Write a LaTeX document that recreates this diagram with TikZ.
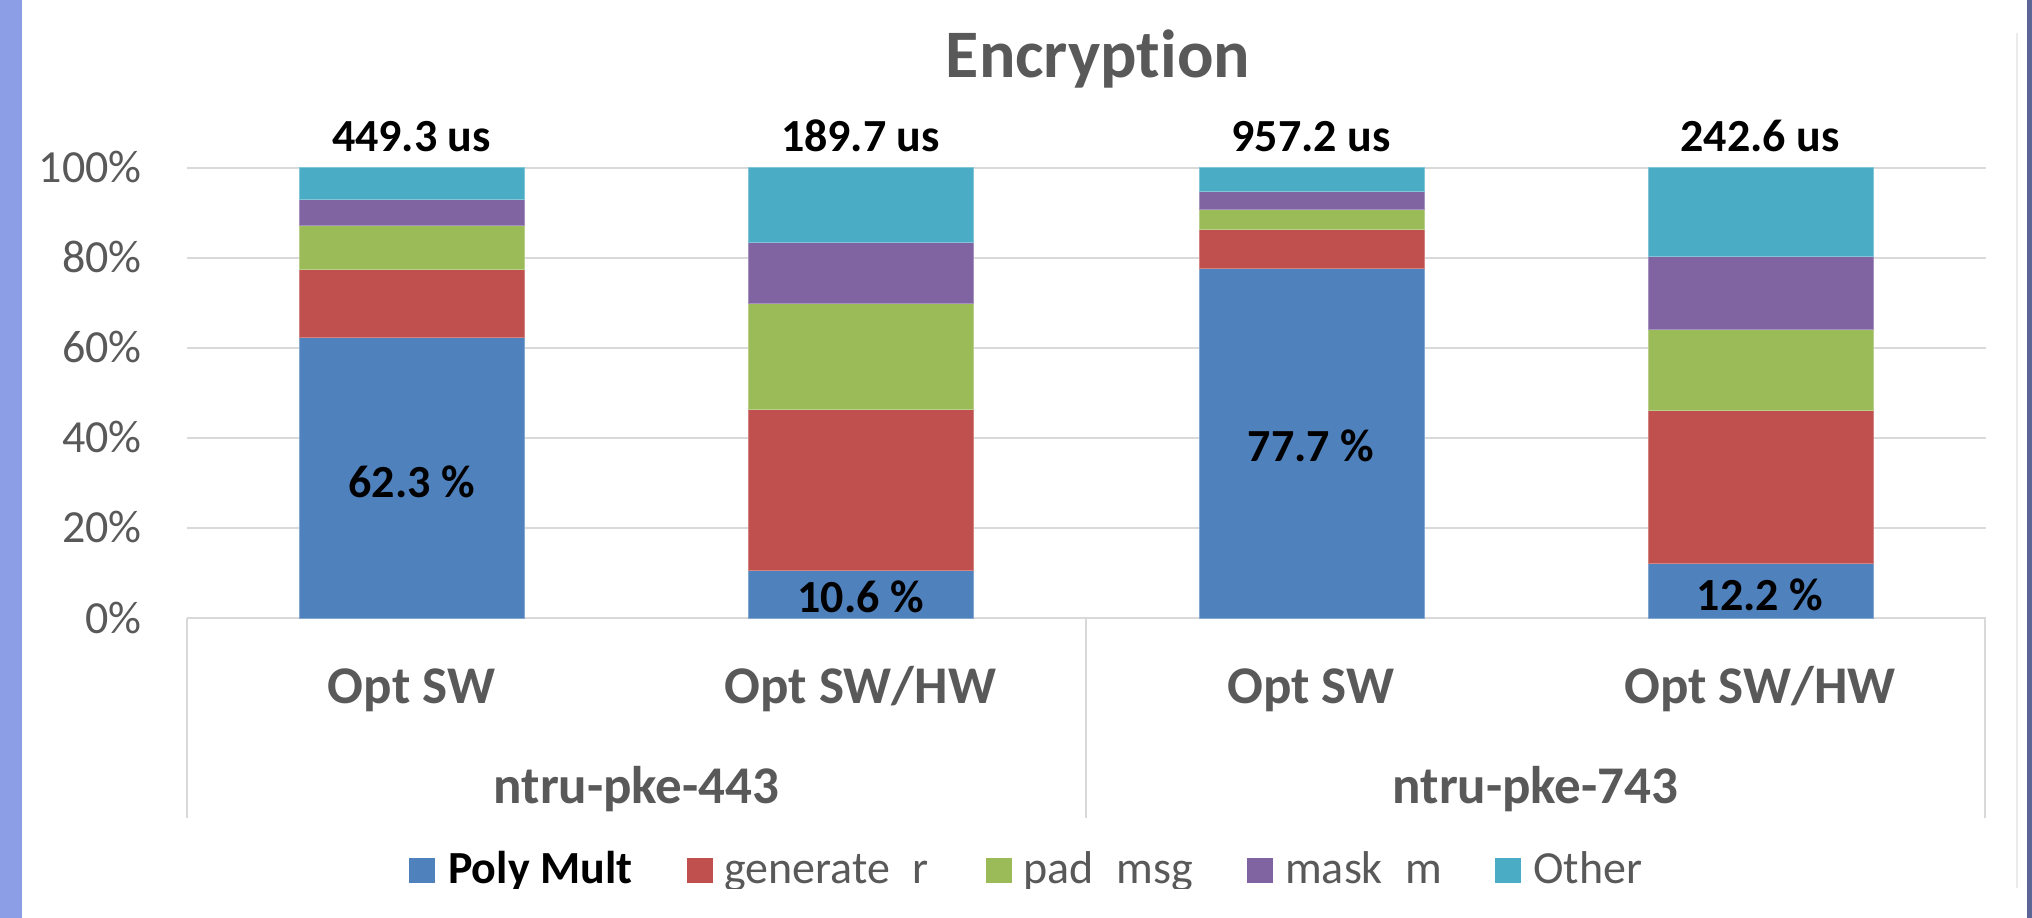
\documentclass[tikz,border=0pt]{standalone}
\usepackage{fontspec}
\setmainfont{Carlito}[Ligatures=NoCommon]
\definecolor{cpoly}{HTML}{4F81BD}
\definecolor{cgen}{HTML}{C0504D}
\definecolor{cpad}{HTML}{9BBB59}
\definecolor{cmask}{HTML}{8064A2}
\definecolor{cother}{HTML}{4BACC6}
\definecolor{txtgray}{HTML}{595959}
\definecolor{gridgray}{HTML}{D9D9D9}
\definecolor{edgeblue}{HTML}{8C9FE6}
\definecolor{edgedark}{HTML}{5B6596}
\definecolor{framegray}{HTML}{EBEBEB}
\newcommand{\gap}{\phantom{\_}}
\begin{document}
\begin{tikzpicture}[x=1pt,y=-1pt,
  txt/.style={inner sep=0pt, anchor=base},
  title/.style={txt, text=txtgray, font=\fontsize{68}{72}\selectfont\bfseries},
  total/.style={txt, text=black, font=\fontsize{46}{50}\selectfont\bfseries},
  share/.style={txt, text=black, font=\fontsize{46}{50}\selectfont\bfseries},
  ytick/.style={txt, anchor=base east, text=txtgray, font=\fontsize{46}{50}\selectfont},
  cat/.style={txt, text=txtgray, font=\fontsize{53}{57}\selectfont\bfseries},
  legtxt/.style={txt, anchor=base west, text=txtgray, font=\fontsize{46}{50}\selectfont},
  grid/.style={draw=gridgray, line width=2pt},
  seg/.style={line width=0.8pt}]
\useasboundingbox (0,0) rectangle (2032,918);
\fill[white] (0,0) rectangle (2032,918);

% side strips and chart frame
\fill[edgeblue] (0,0) rectangle (22,918);
\fill[edgedark] (2027,0) rectangle (2032,918);
\draw[framegray, line width=1.5pt] (2017,33) -- (2017,888);

% horizontal gridlines and y-axis labels (0% at y=618, 100% at y=167.5)
\foreach \p/\t in {0/0\%,20/20\%,40/40\%,60/60\%,80/80\%,100/100\%}{
  \draw[grid] (187,{618-4.505*\p}) -- (1986,{618-4.505*\p});
  \node[ytick] (y\p) at (142,{618-4.505*\p+15}) {\t};
}

% category axis frame
\draw[grid] (187,618) -- (187,818);
\draw[grid] (1086,618) -- (1086,818);
\draw[grid] (1985,618) -- (1985,818);

% stacked bars: left edge / Poly Mult / generate r / pad msg / mask m cumulative shares
\foreach \xl/\a/\b/\c/\d in {299/62.3/77.3/87.2/92.9, 748/10.6/46.3/69.8/83.3,
                              1199/77.7/86.2/90.8/94.8, 1648/12.2/46.1/64.0/80.2}{
  \filldraw[seg, fill=cpoly,  draw=cpoly!70!white]  (\xl,618) rectangle (\xl+225,{618-4.505*\a});
  \filldraw[seg, fill=cgen,   draw=cgen!70!white]   (\xl,{618-4.505*\a}) rectangle (\xl+225,{618-4.505*\b});
  \filldraw[seg, fill=cpad,   draw=cpad!70!white]   (\xl,{618-4.505*\b}) rectangle (\xl+225,{618-4.505*\c});
  \filldraw[seg, fill=cmask,  draw=cmask!70!white]  (\xl,{618-4.505*\c}) rectangle (\xl+225,{618-4.505*\d});
  \filldraw[seg, fill=cother, draw=cother!70!white] (\xl,{618-4.505*\d}) rectangle (\xl+225,167.5);
}

% title
\node[title] (ttl) at (1098,77) {Encryption};

% total run times above the bars
\node[total] (t1) at (411.5,151) {449.3 us};
\node[total] (t2) at (860.5,151) {189.7 us};
\node[total] (t3) at (1311,151) {957.2 us};
\node[total] (t4) at (1760,151) {242.6 us};

% Poly Mult shares
\node[share] (s1) at (411.5,497) {62.3 \%};
\node[share] (s2) at (860.5,612) {10.6 \%};
\node[share] (s3) at (1311,461) {77.7 \%};
\node[share] (s4) at (1760,610) {12.2 \%};

% category labels
\node[cat] (c1) at (411.5,703) {Opt SW};
\node[cat] (c2) at (860.5,703) {Opt SW/HW};
\node[cat] (c3) at (1311,703) {Opt SW};
\node[cat] (c4) at (1760,703) {Opt SW/HW};
\node[cat] (g1) at (636.5,803) {ntru-pke-443};
\node[cat] (g2) at (1535.5,803) {ntru-pke-743};

% legend, cut off just below the baseline
\begin{scope}
  \clip (0,0) rectangle (2032,888);
  \fill[cpoly]  (409,858) rectangle (435,883);
  \node[legtxt, text=black, font=\fontsize{46}{50}\selectfont\bfseries] (l1) at (448,883) {Poly Mult};
  \fill[cgen]   (687,858) rectangle (713,883);
  \node[legtxt] (l2) at (724,883) {generate\gap r};
  \fill[cpad]   (986,858) rectangle (1012,883);
  \node[legtxt] (l3) at (1023,883) {pad\gap msg};
  \fill[cmask]  (1247,858) rectangle (1273,883);
  \node[legtxt] (l4) at (1285,883) {mask\gap m};
  \fill[cother] (1495,858) rectangle (1521,883);
  \node[legtxt] (l5) at (1533,883) {Other};
\end{scope}
\end{tikzpicture}
\end{document}
